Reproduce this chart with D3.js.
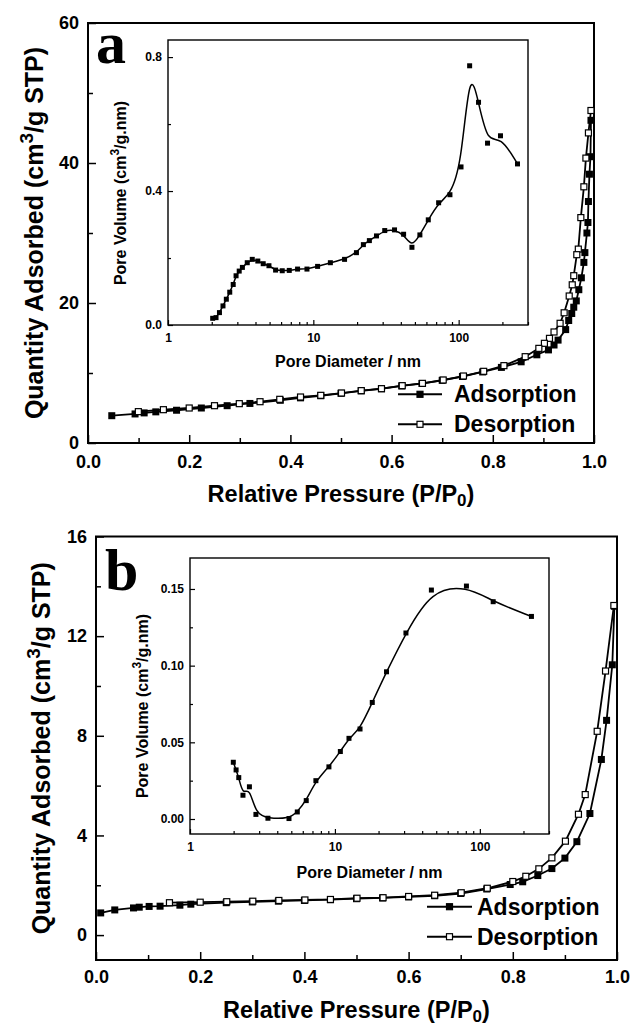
<!DOCTYPE html>
<html><head><meta charset="utf-8">
<script src="https://cdn.jsdelivr.net/npm/d3@7"></script>
<style>body{margin:0;background:#fff}svg{display:block}</style>
</head><body>
<svg id="c" width="631" height="1027"></svg>
<script>
// ---------- DATA ----------
// Panel a: isotherm
const aAdsP = [0.047,0.093,0.111,0.134,0.175,0.224,0.275,0.320,0.38,0.42,0.46,0.50,0.54,0.58,0.62,0.66,0.70,0.74,0.78,0.817,0.856,0.887,0.910,0.921,0.929,0.944,0.950,0.956,0.960,0.965,0.970,0.975,0.980,0.982,0.986,0.988,0.989,0.991,0.993,0.994];
const aAdsQ = [3.9,4.15,4.3,4.45,4.68,5.0,5.33,5.65,6.1,6.45,6.75,7.1,7.45,7.75,8.15,8.5,8.95,9.5,10.15,10.8,11.6,12.6,13.3,14.0,14.7,16.2,17.5,18.5,19.4,20.3,21.9,23.6,25.8,27.2,30.0,31.5,34.5,38.4,40.9,46.1];
const aDesP = [0.994,0.989,0.984,0.980,0.974,0.969,0.966,0.960,0.957,0.951,0.941,0.933,0.921,0.912,0.902,0.891,0.864,0.822,0.782,0.742,0.702,0.661,0.621,0.580,0.540,0.501,0.460,0.420,0.379,0.340,0.299,0.250,0.200,0.149,0.0995];
const aDesQ = [47.5,44.3,40.7,36.6,32.2,27.7,26.9,23.9,22.6,21.0,18.6,17.1,15.86,14.95,14.24,13.52,12.33,11.05,10.24,9.57,9.0,8.52,8.19,7.76,7.48,7.14,6.81,6.57,6.24,5.9,5.62,5.33,5.0,4.76,4.48];
// Panel a: pore size distribution (inset)
const aPoreD = [2.03,2.14,2.26,2.39,2.52,2.66,2.81,2.94,3.09,3.25,3.51,3.80,4.15,4.52,4.95,5.50,6.11,6.83,7.79,9.04,10.7,13.1,16.4,19.8,22.1,24.3,27.2,31.0,36.2,41.8,47.7,54.1,61.8,72.8,87.1,103.8,119,137,158,194,254];
const aPoreV = [0.020,0.022,0.037,0.057,0.077,0.098,0.121,0.147,0.161,0.172,0.186,0.196,0.191,0.183,0.177,0.164,0.162,0.163,0.167,0.167,0.175,0.186,0.196,0.216,0.240,0.252,0.266,0.282,0.284,0.271,0.232,0.269,0.314,0.365,0.389,0.472,0.774,0.665,0.543,0.565,0.481];
// Panel b: isotherm
const bAdsP = [0.009,0.036,0.072,0.083,0.102,0.123,0.161,0.182,0.25,0.30,0.35,0.40,0.45,0.50,0.55,0.60,0.65,0.70,0.75,0.795,0.819,0.848,0.875,0.900,0.923,0.948,0.970,0.980,0.991,0.995];
const bAdsQ = [0.89,1.01,1.09,1.12,1.15,1.16,1.20,1.24,1.30,1.33,1.36,1.39,1.42,1.46,1.49,1.53,1.58,1.67,1.85,2.03,2.14,2.39,2.67,3.09,3.75,4.88,7.05,8.62,10.85,13.2];
const bDesP = [0.994,0.978,0.962,0.939,0.926,0.901,0.875,0.850,0.825,0.800,0.751,0.701,0.650,0.600,0.551,0.501,0.450,0.401,0.351,0.301,0.251,0.200,0.141];
const bDesQ = [13.23,10.6,8.18,5.64,4.85,3.77,3.10,2.66,2.36,2.15,1.88,1.70,1.60,1.55,1.50,1.48,1.43,1.41,1.39,1.36,1.34,1.32,1.30];
// Panel b: pore size distribution (inset)
const bPoreD = [1.99,2.08,2.17,2.32,2.57,2.85,3.45,4.82,5.50,6.34,7.39,9.09,10.9,12.5,14.9,18.1,22.7,30.9,46.3,80.8,123.6,227];
const bPoreV = [0.037,0.032,0.027,0.0155,0.021,0.003,0.0005,0.0003,0.0046,0.012,0.025,0.034,0.044,0.0526,0.0587,0.076,0.096,0.1213,0.1493,0.1519,0.1417,0.1321];

// Ticks / labels
const pressTicks = [0,0.2,0.4,0.6,0.8,1.0];
const pressMinor = [0.1,0.3,0.5,0.7,0.9];
const aQTicks = [0,20,40,60], aQMinor = [10,30,50];
const bQTicks = [0,4,8,12,16], bQMinor = [2,6,10,14];
const diaTicks = [1,10,100];
const diaMinor = [2,3,4,5,6,7,8,9,20,30,40,50,60,70,80,90,200,300];
const aVTicks = [0,0.4,0.8], aVMinor = [0.2,0.6];
const bVTicks = [0,0.05,0.10,0.15], bVMinor = [0.025,0.075,0.125];
const legendNames = ["Adsorption","Desorption"];

// ---------- DRAW ----------
const FONT = "'Liberation Sans', Arial, Helvetica, sans-serif";
const svg = d3.select("#c");

function styleAxis(g, fs){
  g.select(".domain").remove();
  g.selectAll(".tick line").attr("stroke","#000").attr("stroke-width",1.5);
  g.selectAll(".tick text").attr("font-family",FONT).attr("font-weight","bold").attr("font-size",fs).attr("fill","#000");
}

function drawPanel(c){
  const x = d3.scaleLinear().domain([0,1]).range([c.L,c.R]);
  const y = d3.scaleLinear().domain(c.yDom).range([c.B,c.T]);
  const g = svg.append("g");
  // axes
  const gy = g.append("g").attr("transform",`translate(${c.L},0)`)
    .call(d3.axisLeft(y).tickValues(c.yTicks).tickSize(-8).tickPadding(9).tickFormat(d3.format("d")));
  styleAxis(gy,18);
  const gym = g.append("g").attr("transform",`translate(${c.L},0)`)
    .call(d3.axisLeft(y).tickValues(c.yMinor).tickSize(-5).tickFormat(""));
  styleAxis(gym,18);
  const gx = g.append("g").attr("transform",`translate(0,${c.B})`)
    .call(d3.axisBottom(x).tickValues(pressTicks).tickSize(-8).tickPadding(c.xPad).tickFormat(d3.format(".1f")));
  styleAxis(gx,18);
  const gxm = g.append("g").attr("transform",`translate(0,${c.B})`)
    .call(d3.axisBottom(x).tickValues(pressMinor).tickSize(-5).tickFormat(""));
  styleAxis(gxm,18);
  g.append("rect").attr("x",c.L).attr("y",c.T).attr("width",c.R-c.L).attr("height",c.B-c.T)
    .attr("fill","none").attr("stroke","#000").attr("stroke-width",2);

  // series
  const line = d3.line().x(d=>x(d[0])).y(d=>y(d[1]));
  const ads = c.adsP.map((p,i)=>[p,c.adsQ[i]]);
  const des = c.desP.map((p,i)=>[p,c.desQ[i]]);
  const ms = 7;
  g.append("path").datum(ads).attr("d",line).attr("fill","none").attr("stroke","#000").attr("stroke-width",1.8);
  g.selectAll(null).data(ads).enter().append("rect")
    .attr("x",d=>x(d[0])-ms/2).attr("y",d=>y(d[1])-ms/2).attr("width",ms).attr("height",ms).attr("fill","#000");
  g.append("path").datum(des).attr("d",line).attr("fill","none").attr("stroke","#000").attr("stroke-width",1.8);
  g.selectAll(null).data(des).enter().append("rect")
    .attr("x",d=>x(d[0])-ms/2+0.5).attr("y",d=>y(d[1])-ms/2+0.5).attr("width",ms-1).attr("height",ms-1)
    .attr("fill","#fff").attr("stroke","#000").attr("stroke-width",1.2);

  // legend
  legendNames.forEach((nm,i)=>{
    const ly = c.legY + i*c.legDy;
    g.append("line").attr("x1",c.legX1).attr("x2",c.legX2).attr("y1",ly).attr("y2",ly).attr("stroke","#000").attr("stroke-width",2);
    const mx=(c.legX1+c.legX2)/2, s=6;
    g.append("rect").attr("x",mx-s/2).attr("y",ly-s/2).attr("width",s).attr("height",s)
      .attr("fill",i===0?"#000":"#fff").attr("stroke","#000").attr("stroke-width",1.2);
    g.append("text").attr("x",c.legTx).attr("y",ly+7.8).text(nm)
      .attr("font-family",FONT).attr("font-weight","bold").attr("font-size",23).attr("fill","#000");
  });

  // axis titles
  const xt = g.append("text").attr("x",(c.L+c.R)/2).attr("y",c.xTitleY).attr("text-anchor","middle")
    .attr("font-family",FONT).attr("font-weight","bold").attr("font-size",23.5).attr("fill","#000");
  xt.append("tspan").text("Relative Pressure (P/P");
  xt.append("tspan").text("0").attr("font-size",17).attr("dy",4);
  xt.append("tspan").text(")").attr("dy",-4);
  const yt = g.append("text").attr("transform",`translate(${c.yTitleX},${(c.T+c.B)/2}) rotate(-90)`).attr("text-anchor","middle")
    .attr("font-family",FONT).attr("font-weight","bold").attr("font-size",25).attr("fill","#000");
  yt.append("tspan").text("Quantity Adsorbed (cm");
  yt.append("tspan").text("3").attr("font-size",19).attr("dy",-10);
  yt.append("tspan").text("/g STP)").attr("dy",10);

  // panel letter
  g.append("text").attr("x",c.letX).attr("y",c.letY).text(c.letter)
    .attr("font-family","'Liberation Serif', 'Times New Roman', serif").attr("font-weight","bold").attr("font-size",60).attr("fill","#000");

  // inset
  const I = c.inset;
  const ix = d3.scaleLog().domain([1,300]).range([I.L,I.R]);
  const iy = d3.scaleLinear().domain(I.yDom).range([I.B,I.T]);
  const ig = g.append("g");
  ig.append("rect").attr("x",I.L).attr("y",I.T).attr("width",I.R-I.L).attr("height",I.B-I.T).attr("fill","#fff");
  const iyA = ig.append("g").attr("transform",`translate(${I.L},0)`)
    .call(d3.axisLeft(iy).tickValues(I.yTicks).tickSize(-5).tickPadding(6).tickFormat(d3.format(I.yFmt)));
  styleAxis(iyA,12);
  const iyM = ig.append("g").attr("transform",`translate(${I.L},0)`)
    .call(d3.axisLeft(iy).tickValues(I.yMinor).tickSize(-3).tickFormat(""));
  styleAxis(iyM,12);
  const ixA = ig.append("g").attr("transform",`translate(0,${I.B})`)
    .call(d3.axisBottom(ix).tickValues(diaTicks).tickSize(-5).tickPadding(8).tickFormat(d3.format("d")));
  styleAxis(ixA,12);
  const ixM = ig.append("g").attr("transform",`translate(0,${I.B})`)
    .call(d3.axisBottom(ix).tickValues(diaMinor).tickSize(-3).tickFormat(""));
  styleAxis(ixM,12);
  ig.selectAll(".tick line").attr("stroke-width",1.2);
  ig.append("rect").attr("x",I.L).attr("y",I.T).attr("width",I.R-I.L).attr("height",I.B-I.T)
    .attr("fill","none").attr("stroke","#000").attr("stroke-width",1.4);
  const pts = I.d.map((d,i)=>[d,I.v[i]]);
  ig.append("path").datum(pts).attr("d",d3.line().curve(d3.curveBasis).x(d=>ix(d[0])).y(d=>iy(d[1])))
    .attr("fill","none").attr("stroke","#000").attr("stroke-width",1.5);
  const s2=5;
  ig.selectAll(null).data(pts).enter().append("rect")
    .attr("x",d=>ix(d[0])-s2/2).attr("y",d=>iy(d[1])-s2/2).attr("width",s2).attr("height",s2).attr("fill","#000");
  ig.append("text").attr("x",(I.L+I.R)/2).attr("y",I.xTitleY).attr("text-anchor","middle").text("Pore Diameter / nm")
    .attr("font-family",FONT).attr("font-weight","bold").attr("font-size",16).attr("fill","#000");
  const it = ig.append("text").attr("transform",`translate(${I.yTitleX},${I.yTitleC}) rotate(-90)`).attr("text-anchor","middle")
    .attr("font-family",FONT).attr("font-weight","bold").attr("font-size",16).attr("fill","#000");
  it.append("tspan").text("Pore Volume (cm");
  it.append("tspan").text("3").attr("font-size",12).attr("dy",-7);
  it.append("tspan").text("/g.nm)").attr("dy",7);
}

drawPanel({L:88,R:594,T:23,B:443,yDom:[0,60],yTicks:aQTicks,yMinor:aQMinor,xPad:12,
  adsP:aAdsP,adsQ:aAdsQ,desP:aDesP,desQ:aDesQ,
  legX1:398,legX2:442,legTx:454,legY:394.3,legDy:30,
  xTitleY:502,yTitleX:43,letter:"a",letX:96,letY:63,
  inset:{L:168,R:528,T:40,B:325,yDom:[0,0.851],yTicks:aVTicks,yMinor:aVMinor,yFmt:".1f",
    d:aPoreD,v:aPoreV,xTitleY:367,yTitleX:126,yTitleC:193}});

drawPanel({L:96,R:617,T:536.5,B:960,yDom:[-1,16],yTicks:bQTicks,yMinor:bQMinor,xPad:10,
  adsP:bAdsP,adsQ:bAdsQ,desP:bDesP,desQ:bDesQ,
  legX1:427,legX2:472,legTx:477,legY:906.7,legDy:30,
  xTitleY:1018,yTitleX:50,letter:"b",letX:105,letY:590,
  inset:{L:190,R:549,T:558,B:834,yDom:[-0.00978,0.1702],yTicks:bVTicks,yMinor:bVMinor,yFmt:".2f",
    d:bPoreD,v:bPoreV,xTitleY:878,yTitleX:148,yTitleC:706}});
</script>
</body></html>
